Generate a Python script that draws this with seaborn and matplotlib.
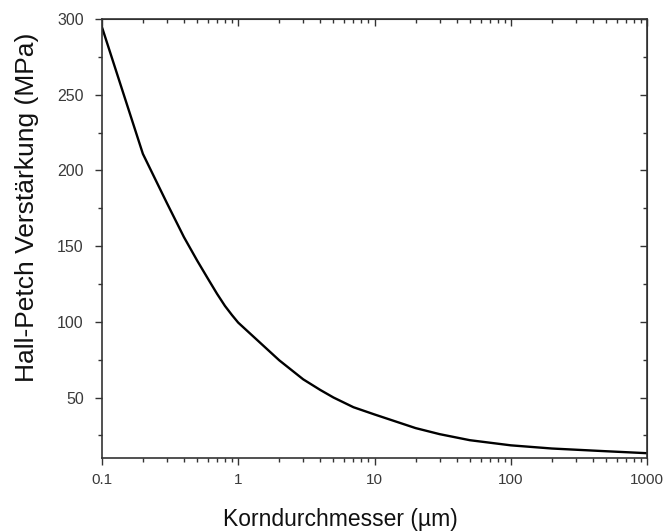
import matplotlib
matplotlib.use("Agg")
import matplotlib.pyplot as plt
import seaborn as sns
import pandas as pd
from matplotlib.ticker import FixedLocator, LogLocator, FuncFormatter, NullFormatter, MultipleLocator

# Data
grain_size_um = [0.1, 0.2, 0.3, 0.4, 0.5, 0.6, 0.7, 0.8, 0.9, 1, 2, 3, 4, 5, 7,
                 10, 20, 30, 50, 100, 200, 500, 1000]
hall_petch_mpa = [295, 211, 178.5, 156, 140.5, 128.5, 118.5, 110.5, 104.5, 99.5, 74.6, 62, 55, 50, 43.6,
                  38.8, 29.8, 25.8, 21.8, 18.4, 16.3, 14.5, 13.2]
x_tick_values = [0.1, 1, 10, 100, 1000]
x_tick_labels = ["0.1", "1", "10", "100", "1000"]
y_tick_values = [50, 100, 150, 200, 250, 300]

sns.set_style("ticks")
plt.rcParams['font.family'] = ['Liberation Sans', 'DejaVu Sans']

df = pd.DataFrame({"d": grain_size_um, "s": hall_petch_mpa})

fig = plt.figure(figsize=(6.7, 5.32), dpi=100)
ax = fig.add_axes([0.152, 0.139, 0.814, 0.825])
sns.lineplot(data=df, x="d", y="s", ax=ax, color="black", linewidth=1.7)

ax.set_xscale("log")
ax.set_xlim(0.1, 1000)
ax.set_ylim(10, 300)
ax.xaxis.set_major_locator(FixedLocator(x_tick_values))
ax.xaxis.set_major_formatter(FuncFormatter(lambda v, p: x_tick_labels[x_tick_values.index(v)] if v in x_tick_values else ""))
ax.xaxis.set_minor_locator(LogLocator(base=10, subs=range(2, 10)))
ax.xaxis.set_minor_formatter(NullFormatter())
ax.yaxis.set_major_locator(FixedLocator(y_tick_values))
ax.yaxis.set_minor_locator(MultipleLocator(25))

tick_col = "#3a3a3a"
ax.tick_params(which="major", direction="out", length=5, width=1, colors="#333333", labelcolor=tick_col, labelsize=11.5)
ax.tick_params(which="minor", direction="out", length=3, width=1, colors="#333333")
ax.tick_params(axis="y", which="major", pad=8)
ax.tick_params(axis="x", which="major", pad=6, labelsize=11)
for sp in ax.spines.values():
    sp.set_visible(True)
    sp.set_color("#333333")
    sp.set_linewidth(1.2)

# mirrored inward ticks on top and right
top = ax.secondary_xaxis("top")
top.set_xscale("log")
top.xaxis.set_major_locator(FixedLocator(x_tick_values))
top.xaxis.set_minor_locator(LogLocator(base=10, subs=range(2, 10)))
top.tick_params(which="major", direction="in", length=5, width=1, colors="#333333", labeltop=False)
top.tick_params(which="minor", direction="in", length=3, width=1, colors="#333333")
top.xaxis.set_major_formatter(NullFormatter())
top.xaxis.set_minor_formatter(NullFormatter())
right = ax.secondary_yaxis("right")
right.yaxis.set_major_locator(FixedLocator(y_tick_values))
right.yaxis.set_minor_locator(MultipleLocator(25))
right.tick_params(which="major", direction="in", length=5, width=1, colors="#333333", labelright=False)
right.tick_params(which="minor", direction="in", length=3, width=1, colors="#333333")
right.yaxis.set_major_formatter(NullFormatter())

ax.set_xlabel("Korndurchmesser (µm)", fontsize=16.5, color="#111111", va="center")
ax.xaxis.set_label_coords(0.4376, -0.141)
ax.set_ylabel("Hall-Petch Verstärkung (MPa)", fontsize=19, color="#111111", va="center")
ax.yaxis.set_label_coords(-0.138, 0.571)

fig.savefig("out.png", dpi=100)
